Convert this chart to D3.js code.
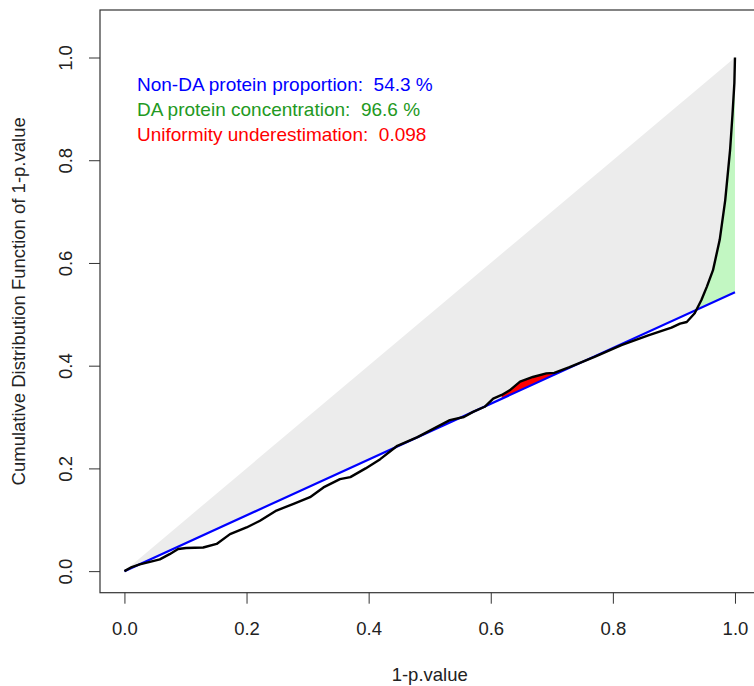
<!DOCTYPE html>
<html><head>
<meta charset="utf-8">
<script src="https://d3js.org/d3.v7.min.js"></script>
<style>
  body { margin: 0; background: #fff; }
  text { font-family: "Liberation Sans", Arial, sans-serif; }
  .axis text { font-size: 18.5px; fill: #222; }
  .axis line { stroke: #333; }
</style>
</head>
<body>
<svg id="chart" width="754" height="686"></svg>
<script>

// ECDF of 1-p.value
const cdfX = [0, 0.012, 0.025, 0.045, 0.058, 0.074, 0.088, 0.101, 0.129, 0.151, 0.173,
  0.200, 0.222, 0.249, 0.277, 0.304, 0.326, 0.353, 0.370, 0.395, 0.419,
  0.447, 0.480, 0.501, 0.533, 0.556, 0.571, 0.590, 0.604, 0.618, 0.631, 0.648, 0.669,
  0.691, 0.704, 0.729, 0.770, 0.814, 0.858, 0.896, 0.910, 0.921, 0.934, 0.945, 0.954,
  0.964, 0.975, 0.984, 0.992, 0.996, 0.999, 1.000];
const cdfY = [0, 0.008, 0.013, 0.019, 0.023, 0.033, 0.043, 0.045, 0.046, 0.053, 0.072,
  0.085, 0.098, 0.118, 0.131, 0.144, 0.163, 0.179, 0.183, 0.200, 0.218,
  0.244, 0.261, 0.274, 0.294, 0.300, 0.310, 0.320, 0.336, 0.343, 0.352, 0.369, 0.378,
  0.385, 0.386, 0.397, 0.417, 0.440, 0.459, 0.474, 0.482, 0.485, 0.502, 0.528, 0.554,
  0.586, 0.645, 0.722, 0.820, 0.890, 0.950, 1.000];

const pi0 = 0.543;            // slope of the uniform line (non-DA proportion)
const redRange = [0.605, 0.705];  // uniformity underestimation zone
const greenStart = 0.934;         // DA concentration zone

const ticks = [0, 0.2, 0.4, 0.6, 0.8, 1.0];
const legendLines = ["Non-DA protein proportion:  54.3 %",
                     "DA protein concentration:  96.6 %",
                     "Uniformity underestimation:  0.098"];
const legendColors = ["#0000ff", "#229922", "#ff0000"];

const svg = d3.select("#chart");
const padLeft = 100, padTop = 10, padBottom = 592.7, padRight = 759.4;

const x = d3.scaleLinear().domain([-0.04, 1.04]).range([padLeft, padRight]);
const y = d3.scaleLinear().domain([-0.042, 1.0925]).range([padBottom, padTop]);

const pts = cdfX.map((v, i) => ({x: v, y: cdfY[i]}));
const line = d3.line().x(d => x(d.x)).y(d => y(d.y));

// grey triangle between diagonal and uniform line
svg.append("path")
   .attr("d", line([{x:0,y:0},{x:1,y:1},{x:1,y:pi0}]) + "Z")
   .attr("fill", "#ececec");

const between = d3.area()
   .x(d => x(d.x))
   .y0(d => y(pi0 * d.x))
   .y1(d => y(Math.max(d.y, pi0 * d.x)));

svg.append("path")
   .attr("d", between(pts.filter(d => d.x >= greenStart)))
   .attr("fill", "#c2f7c2");

svg.append("path")
   .attr("d", between(pts.filter(d => d.x >= redRange[0] && d.x <= redRange[1])))
   .attr("fill", "#ff0000");

// uniform line
svg.append("line")
   .attr("x1", x(0)).attr("y1", y(0))
   .attr("x2", x(1)).attr("y2", y(pi0))
   .attr("stroke", "#0000ff").attr("stroke-width", 2.2);

// cdf curve
svg.append("path")
   .attr("d", line(pts))
   .attr("fill", "none").attr("stroke", "#000").attr("stroke-width", 2.4)
   .attr("stroke-linejoin", "round");

// box
svg.append("rect")
   .attr("x", padLeft).attr("y", padTop)
   .attr("width", padRight - padLeft).attr("height", padBottom - padTop)
   .attr("fill", "none").attr("stroke", "#333").attr("stroke-width", 1.2);

// axes
let xAxis = svg.append("g").attr("class", "axis")
   .attr("transform", "translate(0," + padBottom + ")")
   .call(d3.axisBottom(x).tickValues(ticks).tickFormat(d3.format(".1f")).tickSize(11));
xAxis.select(".domain").remove();
xAxis.selectAll("text").attr("y", 42).attr("dy", 0);

let yAxis = svg.append("g").attr("class", "axis")
   .attr("transform", "translate(" + padLeft + ",0)")
   .call(d3.axisLeft(y).tickValues(ticks).tickFormat(d3.format(".1f")).tickSize(11));
yAxis.select(".domain").remove();
yAxis.selectAll("text")
   .attr("x", 0).attr("dy", 0)
   .attr("text-anchor", "middle")
   .attr("transform", "translate(-28.5,0) rotate(-90)");

// axis titles
svg.append("text")
   .attr("x", (padLeft + padRight) / 2).attr("y", 681)
   .attr("text-anchor", "middle").attr("font-size", "18.5px").attr("fill", "#222")
   .text("1-p.value");

svg.append("text")
   .attr("transform", "translate(25," + (padTop + padBottom) / 2 + ") rotate(-90)")
   .attr("text-anchor", "middle").attr("font-size", "18.5px").attr("fill", "#222")
   .text("Cumulative Distribution Function of 1-p.value");

// legend text
svg.selectAll("text.legend").data(legendLines)
   .join("text").attr("class", "legend")
   .attr("x", 137).attr("y", (d, i) => 91 + i * 25)
   .attr("font-size", "19px")
   .attr("fill", (d, i) => legendColors[i])
   .attr("xml:space", "preserve")
   .style("white-space", "pre")
   .text(d => d);

</script>
</body>
</html>
